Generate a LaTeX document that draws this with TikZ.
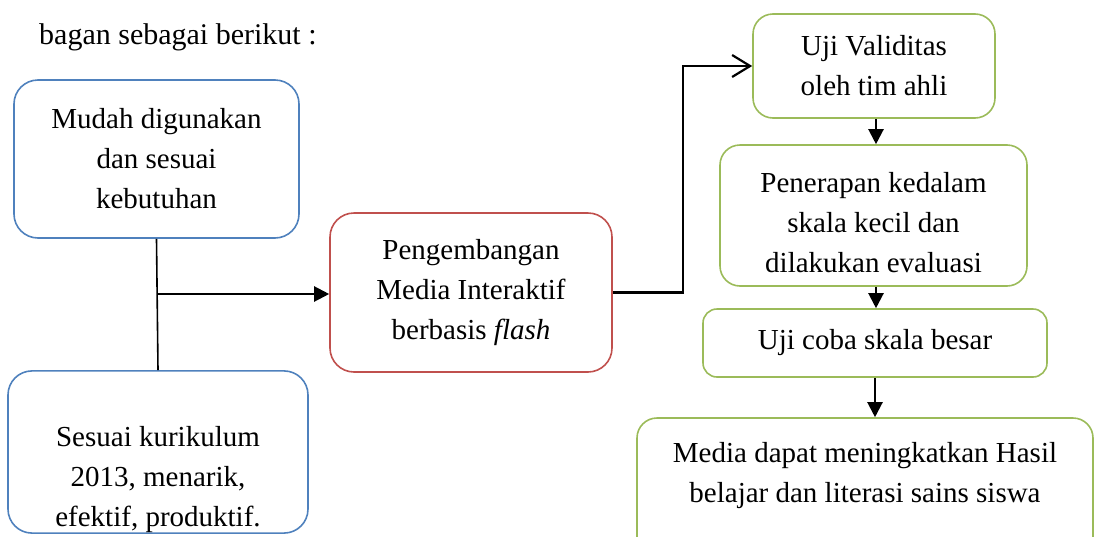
\documentclass[tikz,border=0pt]{standalone}
\usepackage{fontspec}
\setmainfont{Liberation Serif}
\usetikzlibrary{arrows.meta}
\tikzset{>=stealth}
\definecolor{boxblue}{HTML}{4F81BD}
\definecolor{boxred}{HTML}{C0504D}
\definecolor{boxgreen}{HTML}{9BBB59}
\tikzset{
  box/.style={draw, line width=1.6pt, rounded corners=24pt, align=center, inner sep=0pt, text=black,
    font=\fontsize{29}{40}\selectfont},
  link/.style={line width=2.2pt, -{Triangle[length=15pt,width=15pt]}},
}

\begin{document}
\begin{tikzpicture}[x=1pt, y=-1pt]
  \useasboundingbox (0,0) rectangle (1095,536);
  \clip (0,0) rectangle (1095,536);
  \node[anchor=west, inner sep=0pt, font=\fontsize{30}{40}\selectfont] (intro) at (39,37) {bagan sebagai berikut :};

  \node[box, draw=boxblue, minimum width=285pt, minimum height=158pt] (mudah) at (156.5,159) {Mudah digunakan\\dan sesuai\\kebutuhan};
  \node[box, draw=boxblue, minimum width=300pt, minimum height=160pt] (kurikulum) at (158,452) {\rule{0pt}{76pt}Sesuai kurikulum\\2013, menarik,\\efektif, produktif.};
  \node[box, draw=boxred, minimum width=282pt, minimum height=159pt] (media) at (471,292.5) {Pengembangan\\Media Interaktif\\berbasis \emph{flash}};

  \node[box, draw=boxgreen, rounded corners=20pt, minimum width=242pt, minimum height=104pt] (uji) at (874,66) {Uji Validitas\\oleh tim ahli};
  \node[box, draw=boxgreen, rounded corners=20pt, minimum width=307pt, minimum height=141pt] (terapan) at (873.5,215.5) {\rule{0pt}{34pt}Penerapan kedalam\\skala kecil dan\\dilakukan evaluasi};
  \node[box, draw=boxgreen, rounded corners=14pt, minimum width=344pt, minimum height=68pt] (coba) at (875,343) {Uji coba skala besar};
  \node[box, draw=boxgreen, rounded corners=20pt, minimum width=456pt, minimum height=142pt] (hasil) at (865,489) {Media dapat meningkatkan Hasil\\belajar dan literasi sains siswa\rule[-34pt]{0pt}{34pt}};

  % left side joins into the middle box
  \draw[line width=1.6pt] (mudah.south) -- (kurikulum.north);
  \coordinate (join) at (157,294);
  \draw[link] (join) -- (join -| media.west);

  \coordinate (bend) at (683,0);
  \draw[line width=2.2pt, -{Straight Barb[length=18pt,width=22pt]}] (media.east) -- (media.east -| bend) |- (uji.west);

  \draw[link] (uji.south -| 876,0) -- (terapan.north -| 876,0);
  \draw[link] (terapan.south -| 876,0) -- (coba.north -| 876,0);
  \draw[link] (coba.south) -- (coba.south |- hasil.north);
\end{tikzpicture}
\end{document}
